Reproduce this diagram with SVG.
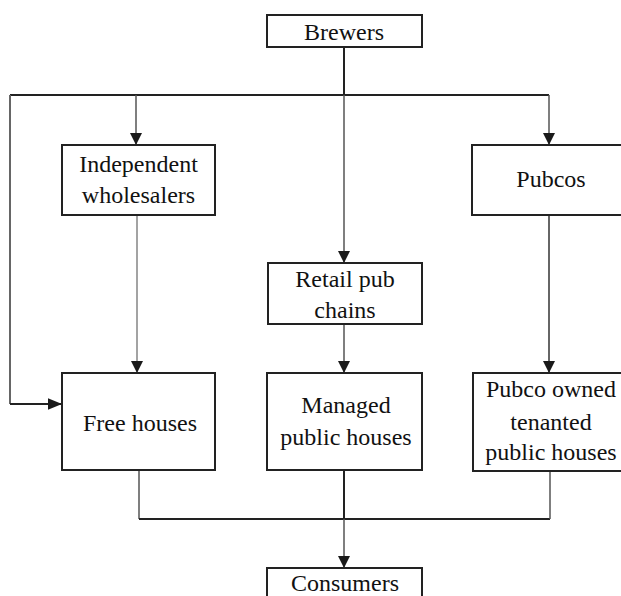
<svg xmlns="http://www.w3.org/2000/svg" width="621" height="596" viewBox="0 0 621 596">
  <style>
    .box { fill: #fff; stroke: #222; stroke-width: 2; }
    .lbl { font-family: "Liberation Serif", "Times New Roman", serif; font-size: 24px; fill: #111; text-anchor: middle; }
    .ln { fill: none; stroke: #222; stroke-width: 2; }
    .thin { fill: none; stroke: #555; stroke-width: 1.5; }
    .pale { fill: none; stroke: #999; stroke-width: 1.8; }
  </style>
  <defs>
    <marker id="arr" markerUnits="userSpaceOnUse" markerWidth="12" markerHeight="12" viewBox="0 0 10 10" refX="10" refY="5" orient="auto">
      <path d="M0,0 L10,5 L0,10 z" fill="#1a1a1a"/>
    </marker>
    <marker id="arr-lg" markerUnits="userSpaceOnUse" markerWidth="14" markerHeight="12" viewBox="0 0 12 10" refX="12" refY="5" orient="auto">
      <path d="M0,0 L12,5 L0,10 z" fill="#1a1a1a"/>
    </marker>
  </defs>

  <!-- connectors -->
  <g id="connectors">
    <path class="ln" d="M344,47 V95"/>
    <path class="ln" d="M10,95 H549"/>
    <path class="thin" d="M136,95 V145" marker-end="url(#arr)"/>
    <path class="thin" d="M344,95 V263" marker-end="url(#arr)"/>
    <path class="thin" d="M549,95 V145" marker-end="url(#arr)"/>
    <path class="thin" d="M10,95 V404" style="stroke:#666;stroke-width:2"/>
    <path class="ln" d="M10,404 H62" marker-end="url(#arr-lg)"/>
    <path class="pale" d="M137,215 V373" marker-end="url(#arr)"/>
    <path class="thin" d="M344,324 V373" marker-end="url(#arr)"/>
    <path class="thin" d="M549,215 V373" style="stroke:#666;stroke-width:2" marker-end="url(#arr)"/>
    <path class="thin" d="M139,470 V519"/>
    <path class="ln" d="M139,519 H550"/>
    <path class="thin" d="M550,471 V519"/>
    <path class="ln" d="M344,470 V519"/>
    <path class="thin" d="M344,519 V568" marker-end="url(#arr)"/>
  </g>

  <g id="brewers">
    <rect class="box" x="267" y="15" width="155" height="32"/>
    <text class="lbl" x="344" y="40">Brewers</text>
  </g>

  <g id="wholesalers">
    <rect class="box" x="62" y="145" width="153" height="70"/>
    <text class="lbl" x="138.5" y="172">Independent</text>
    <text class="lbl" x="138.5" y="203">wholesalers</text>
  </g>

  <g id="pubcos">
    <rect class="box" x="472" y="145" width="160" height="70"/>
    <text class="lbl" x="551" y="187">Pubcos</text>
  </g>

  <g id="retail-chains">
    <rect class="box" x="268" y="263" width="154" height="61"/>
    <text class="lbl" x="345" y="287">Retail pub</text>
    <text class="lbl" x="345" y="318">chains</text>
  </g>

  <g id="free-houses">
    <rect class="box" x="62" y="373" width="153" height="97"/>
    <text class="lbl" x="140" y="431">Free houses</text>
  </g>

  <g id="managed">
    <rect class="box" x="267" y="373" width="155" height="97"/>
    <text class="lbl" x="346" y="413">Managed</text>
    <text class="lbl" x="346" y="445">public houses</text>
  </g>

  <g id="tenanted">
    <rect class="box" x="473" y="373" width="160" height="98"/>
    <text class="lbl" x="551" y="397">Pubco owned</text>
    <text class="lbl" x="551" y="430">tenanted</text>
    <text class="lbl" x="551" y="460">public houses</text>
  </g>

  <g id="consumers">
    <rect class="box" x="267" y="568" width="155" height="40"/>
    <text class="lbl" x="345" y="591">Consumers</text>
  </g>
</svg>
